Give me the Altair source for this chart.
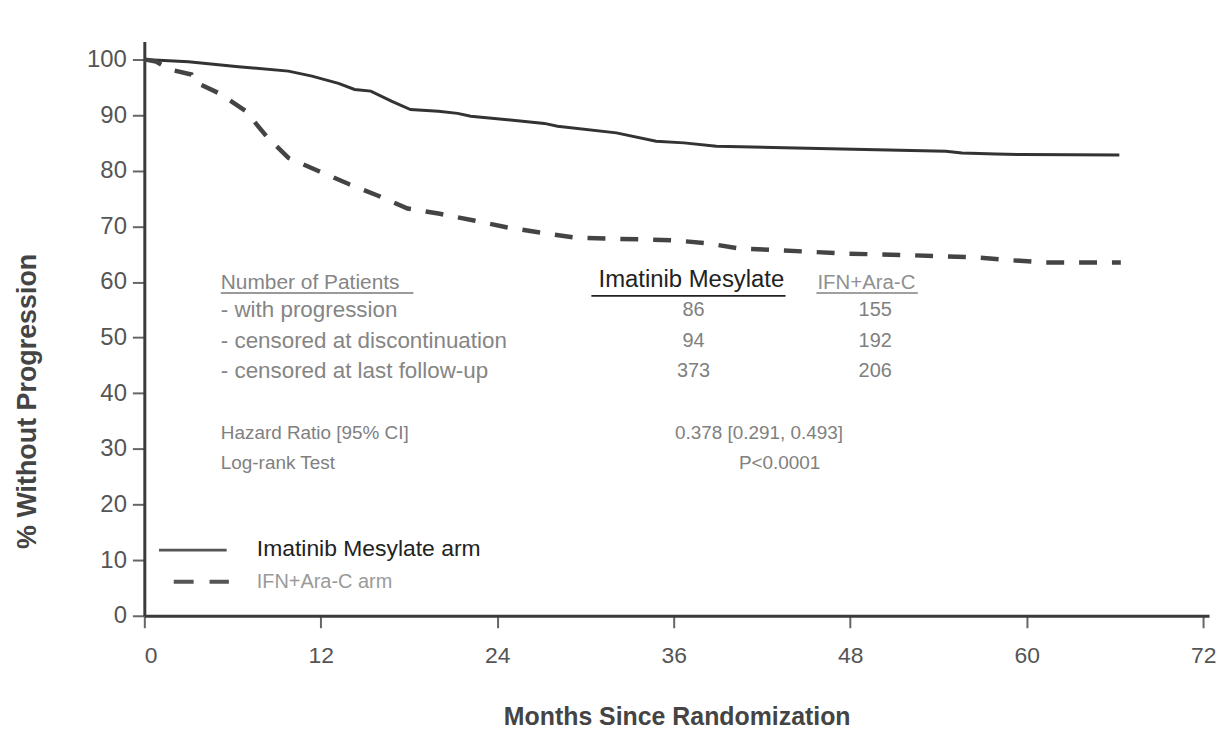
import altair as alt
import pandas as pd

# ---- data ----
imatinib_months = [0, 3, 6.4, 9.8, 11.4, 13.2, 14.3, 15.4, 16.8, 18.1, 20, 21.3, 22.2, 27.2, 28.1,
                   32.1, 34.8, 36.7, 38.9, 44.3, 54.5, 55.6, 57.9, 59.7, 66.3]
imatinib_pct = [100, 99.6, 98.7, 97.9, 97.0, 95.7, 94.6, 94.3, 92.5, 91.0, 90.7, 90.3, 89.8, 88.5, 88.0,
                86.8, 85.3, 85.0, 84.4, 84.1, 83.5, 83.2, 83.0, 82.9, 82.8]

ifn_months = [0, 0.8, 1.7, 3.2, 3.4, 5.1, 6.9, 8.3, 9.8, 11.8, 13.9, 15.9, 17.9, 20, 22.5, 24.7,
              26.9, 29.2, 31.5, 36, 38.4, 40.5, 43.2, 47.7, 52.2, 56.7, 59, 61.2, 66.4]
ifn_pct = [100, 99.6, 98.2, 97.3, 96.0, 93.9, 90.7, 86.2, 82.3, 80.0, 77.6, 75.5, 73.2, 72.3, 71.0, 69.8,
           68.9, 68.0, 67.8, 67.5, 66.9, 66.0, 65.7, 65.1, 64.8, 64.4, 63.9, 63.5, 63.5]

x_ticks = [0, 12, 24, 36, 48, 60, 72]
y_ticks = [0, 10, 20, 30, 40, 50, 60, 70, 80, 90, 100]

row_labels = ["- with progression", "- censored at discontinuation", "- censored at last follow-up"]
imatinib_counts = ["86", "94", "373"]
ifn_counts = ["155", "192", "206"]
row_y = [54.9, 49.4, 44.0]

stat_labels = ["Hazard Ratio [95% CI]", "Log-rank Test"]
stat_values = ["0.378 [0.291, 0.493]", "P<0.0001"]
stat_y = [32.9, 27.5]

legend_labels = ["Imatinib Mesylate arm", "IFN+Ara-C arm"]

NARROW = "'Liberation Sans Narrow', 'Liberation Sans', Arial, sans-serif"
SANS = "'Liberation Sans', Arial, sans-serif"

xs = alt.Scale(domain=[0, 72.4], nice=False)
ys = alt.Scale(domain=[0, 103.2], nice=False)

df_im = pd.DataFrame({"m": imatinib_months, "p": imatinib_pct})
df_ifn = pd.DataFrame({"m": ifn_months, "p": ifn_pct})

base_x = alt.X("m:Q", scale=xs,
               axis=alt.Axis(values=x_ticks, title="Months Since Randomization", grid=False,
                             domainColor="#3a3a3a", domainWidth=3, tickColor="#666", tickWidth=2,
                             tickSize=12, labelFont=NARROW, labelFontSize=23, labelColor="#555",
                             labelPadding=17, titleFont=NARROW, titleFontSize=25, titleFontWeight="bold",
                             titleColor="#444", titlePadding=37))
base_y = alt.Y("p:Q", scale=ys,
               axis=alt.Axis(values=y_ticks, title="% Without Progression", grid=False,
                             domainColor="#3a3a3a", domainWidth=3, tickColor="#666", tickWidth=2,
                             tickSize=12, labelFont=NARROW, labelFontSize=24, labelColor="#555",
                             labelPadding=6, titleFont=NARROW, titleFontSize=27, titleFontWeight="bold",
                             titleColor="#444", titleAngle=-90, titleX=-117, titleY=361,
                             titleAlign="center", titleBaseline="middle"))

im_line = alt.Chart(df_im).mark_line(color="#333", strokeWidth=3).encode(x=base_x, y=base_y, order="m:Q")
ifn_line = alt.Chart(df_ifn).mark_line(color="#444", strokeWidth=4.5, strokeDash=[18, 15]).encode(
    x="m:Q", y="p:Q", order="m:Q")

# table texts
df_rows = pd.DataFrame({"m": [5.2] * 3, "p": row_y, "t": row_labels})
rows = alt.Chart(df_rows).mark_text(align="left", baseline="middle", font=SANS, fontSize=22.5,
                                    color="#858585").encode(x="m:Q", y="p:Q", text="t:N")
df_head = pd.DataFrame({"m": [5.2], "p": [59.75], "t": ["Number of Patients"]})
head = alt.Chart(df_head).mark_text(align="left", baseline="middle", font=SANS, fontSize=21,
                                    color="#858585").encode(x="m:Q", y="p:Q", text="t:N")
df_head2 = pd.DataFrame({"m": [37.2], "p": [60.4], "t": ["Imatinib Mesylate"]})
head2 = alt.Chart(df_head2).mark_text(align="center", baseline="middle", font=NARROW, fontSize=24,
                                      color="#222").encode(x="m:Q", y="p:Q", text="t:N")
df_head3 = pd.DataFrame({"m": [49.1], "p": [59.75], "t": ["IFN+Ara-C"]})
head3 = alt.Chart(df_head3).mark_text(align="center", baseline="middle", font=NARROW, fontSize=20.5,
                                      color="#909090").encode(x="m:Q", y="p:Q", text="t:N")

df_c1 = pd.DataFrame({"m": [37.35] * 3, "p": row_y, "t": imatinib_counts})
c1 = alt.Chart(df_c1).mark_text(align="center", baseline="middle", font=NARROW, fontSize=20,
                                color="#808080").encode(x="m:Q", y="p:Q", text="t:N")
df_c2 = pd.DataFrame({"m": [49.7] * 3, "p": row_y, "t": ifn_counts})
c2 = alt.Chart(df_c2).mark_text(align="center", baseline="middle", font=NARROW, fontSize=20,
                                color="#808080").encode(x="m:Q", y="p:Q", text="t:N")

df_s = pd.DataFrame({"m": [5.2] * 2, "p": stat_y, "t": stat_labels})
s1 = alt.Chart(df_s).mark_text(align="left", baseline="middle", font=SANS, fontSize=19,
                               color="#808080").encode(x="m:Q", y="p:Q", text="t:N")
df_sv = pd.DataFrame({"m": [41.8, 43.2], "p": stat_y, "t": stat_values})
s2 = alt.Chart(df_sv).mark_text(align="center", baseline="middle", font=SANS, fontSize=19,
                                color="#808080").encode(x="m:Q", y="p:Q", text="t:N")

# underlines
df_ul = pd.DataFrame({"m": [5.2, 30.4, 45.7], "m2": [18.3, 43.6, 52.6], "p": [58.0, 57.5, 58.0],
                      "c": ["a", "b", "c"]})
ul = alt.Chart(df_ul).mark_rule(strokeWidth=2).encode(
    x="m:Q", x2="m2:Q", y="p:Q",
    color=alt.Color("c:N", scale=alt.Scale(domain=["a", "b", "c"], range=["#9a9a9a", "#222", "#a0a0a0"]),
                    legend=None))

# legend
df_leg_solid = pd.DataFrame({"m": [1.0, 5.6], "p": [11.8, 11.8]})
leg_solid = alt.Chart(df_leg_solid).mark_line(color="#555", strokeWidth=3).encode(x="m:Q", y="p:Q")
df_leg_dash = pd.DataFrame({"m": [2.0, 5.75], "p": [6.1, 6.1]})
leg_dash = alt.Chart(df_leg_dash).mark_line(color="#555", strokeWidth=4, strokeDash=[20, 16]).encode(
    x="m:Q", y="p:Q")
df_lt1 = pd.DataFrame({"m": [7.65], "p": [12.0], "t": [legend_labels[0]]})
lt1 = alt.Chart(df_lt1).mark_text(align="left", baseline="middle", font=NARROW, fontSize=23,
                                  color="#222").encode(x="m:Q", y="p:Q", text="t:N")
df_lt2 = pd.DataFrame({"m": [7.65], "p": [6.1], "t": [legend_labels[1]]})
lt2 = alt.Chart(df_lt2).mark_text(align="left", baseline="middle", font=SANS, fontSize=20,
                                  color="#9a9a9a").encode(x="m:Q", y="p:Q", text="t:N")

chart = alt.layer(im_line, ifn_line, rows, head, head2, head3, c1, c2, s1, s2, ul,
                  leg_solid, leg_dash, lt1, lt2).properties(
    width=1070, height=577,
    autosize=alt.AutoSizeParams(type="none"),
    padding={"left": 137, "top": 32, "right": 8, "bottom": 112},
).configure(background="white").configure_view(strokeWidth=0, strokeOpacity=0)

chart.save("out.html", embed_options={"renderer": "svg", "actions": False})
